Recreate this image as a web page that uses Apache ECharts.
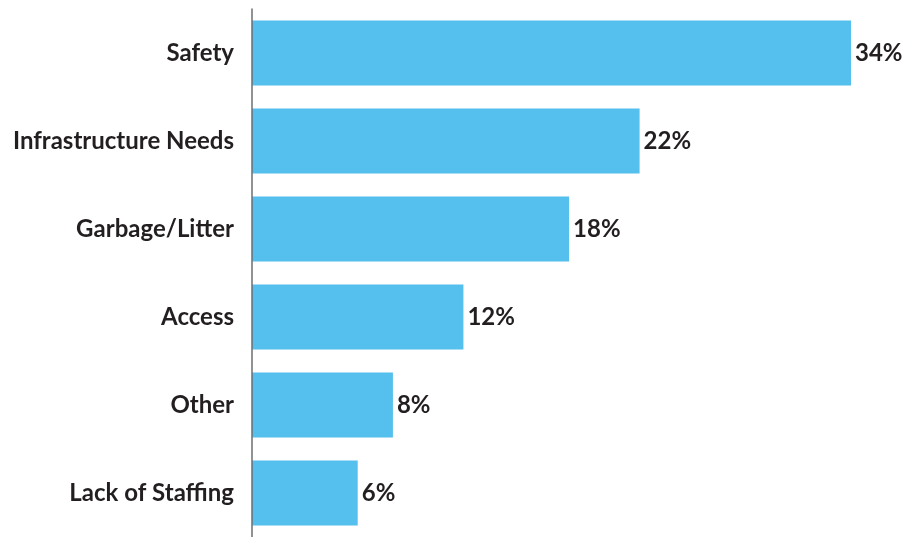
<!DOCTYPE html>
<html>
<head>
<meta charset="utf-8">
<script src="https://cdn.jsdelivr.net/npm/echarts@6/dist/echarts.min.js"></script>
<style>
html,body{margin:0;padding:0;background:#fff;}
#chart{width:904px;height:537px;}
</style>
</head>
<body>
<div id="chart"></div>
<script>
var categories = ['Safety', 'Infrastructure Needs', 'Garbage/Litter', 'Access', 'Other', 'Lack of Staffing'];
var values = [34, 22, 18, 12, 8, 6];
var valueLabels = ['34%', '22%', '18%', '12%', '8%', '6%'];

var chart = echarts.init(document.getElementById('chart'), null, {renderer: 'canvas'});
var FONT = 'Lato';
chart.setOption({
  animation: false,
  backgroundColor: '#ffffff',
  grid: {left: 252, top: 9, width: 599, height: 534, containLabel: false},
  xAxis: {
    type: 'value', min: 0, max: 34,
    show: false
  },
  yAxis: {
    type: 'category',
    data: categories,
    inverse: true,
    axisLine: {show: true, lineStyle: {color: '#6d6e71', width: 1.5}},
    axisTick: {show: false},
    splitLine: {show: false},
    axisLabel: {
      margin: 18,
      color: '#231f20',
      fontFamily: FONT,
      fontWeight: 'bold',
      fontSize: 24,
      padding: [0, 0, 10, 0]
    },
    z: 5
  },
  series: [{
    type: 'bar',
    data: values,
    barWidth: 65,
    itemStyle: {color: '#55c0ed'},
    z: 2,
    label: {
      show: true,
      position: 'right',
      distance: 4,
      color: '#231f20',
      fontFamily: FONT,
      fontWeight: 'bold',
      fontSize: 24,
      formatter: function (p) { return valueLabels[p.dataIndex]; }
    }
  }]
});
</script>
</body>
</html>
